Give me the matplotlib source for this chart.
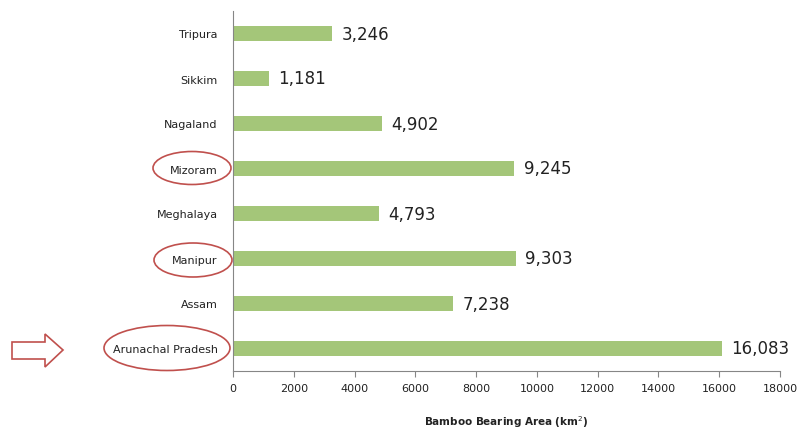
import matplotlib.pyplot as plt
from matplotlib.patches import Ellipse, Polygon

states = ["Arunachal Pradesh", "Assam", "Manipur", "Meghalaya",
          "Mizoram", "Nagaland", "Sikkim", "Tripura"]
area = [16083, 7238, 9303, 4793, 9245, 4902, 1181, 3246]
circled = ["Arunachal Pradesh", "Manipur", "Mizoram"]

fig = plt.figure(figsize=(8.03, 4.31), dpi=100)
ax = fig.add_axes([233 / 803, 59 / 431, 547 / 803, 360 / 431])

ax.barh(range(len(states)), area, height=0.33, color="#A4C679")
for i, v in enumerate(area):
    ax.annotate(f"{v:,}", (v, i), xytext=(7, 0), textcoords="offset points",
                va="center", ha="left", fontsize=12, color="#222222")

ax.set_xlim(0, 18000)
ax.set_ylim(-0.5, len(states) - 0.5)
ax.set_xticks(range(0, 18001, 2000))
ax.set_yticks(range(len(states)))
ax.set_yticklabels(states)
ax.tick_params(axis="y", length=0, pad=11, labelsize=8, labelcolor="#222222")
ax.tick_params(axis="x", length=4, direction="out", color="#868686",
               labelsize=8, labelcolor="#222222", pad=5)
for s in ["top", "right"]:
    ax.spines[s].set_visible(False)
for s in ["left", "bottom"]:
    ax.spines[s].set_color("#868686")
ax.set_xlabel("Bamboo Bearing Area (km$^2$)", fontsize=7.5, fontweight="bold",
              labelpad=14, color="#222222")

# red ellipses around highlighted states (figure pixel coords)
to_fig = lambda x, y: (x / 803, 1 - y / 431)
ell = {"Mizoram": (192, 169, 78, 33), "Manipur": (193, 261, 78, 34),
       "Arunachal Pradesh": (167, 349, 126, 45)}
for name in circled:
    cx, cy, w, h = ell[name]
    fig.patches.append(Ellipse(to_fig(cx, cy), w / 803, h / 431,
                               transform=fig.transFigure, fill=False,
                               edgecolor="#C0504D", linewidth=1.2))

# hollow arrow pointing at Arunachal Pradesh
pts = [(12, 343), (45, 343), (45, 335), (63, 351), (45, 368), (45, 360), (12, 360)]
fig.patches.append(Polygon([to_fig(x, y) for x, y in pts], closed=True,
                           transform=fig.transFigure, fill=False,
                           edgecolor="#C0504D", linewidth=1.2))

fig.savefig("out.png", dpi=100)
